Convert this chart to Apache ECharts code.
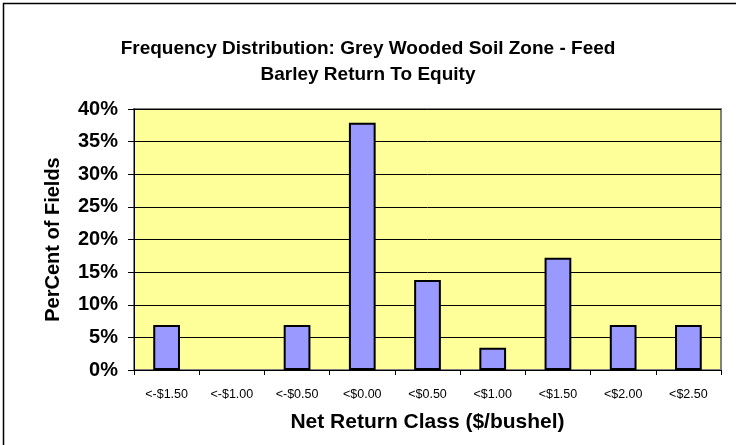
<!DOCTYPE html>
<html>
<head>
<meta charset="utf-8">
<script src="https://cdn.jsdelivr.net/npm/echarts@6/dist/echarts.min.js"></script>
<style>html,body{margin:0;padding:0;background:#fff}#c{width:736px;height:445px}</style>
</head>
<body>
<div id="c"></div>
<script>
const categories = ['<-$1.50','<-$1.00','<-$0.50','<$0.00','<$0.50','<$1.00','<$1.50','<$2.00','<$2.50'];
const percentValues = [6.9, 0, 6.9, 37.9, 13.8, 3.4, 17.2, 6.9, 6.9];
const yTicks = [0, 5, 10, 15, 20, 25, 30, 35, 40];
const titleText = 'Frequency Distribution: Grey Wooded Soil Zone - Feed\nBarley Return To Equity';
const xName = 'Net Return Class ($/bushel)';
const yName = 'PerCent of Fields';

const chart = echarts.init(document.getElementById('c'), null, {renderer: 'canvas'});
const font = 'Arial, "Liberation Sans", sans-serif';
const barData = percentValues.map(v => v === 0 ? {value: v, itemStyle: {borderWidth: 0}} : v);
chart.setOption({
  animation: false,
  backgroundColor: '#ffffff',
  title: {
    text: titleText,
    left: 'center',
    top: 31,
    textStyle: {fontFamily: font, fontSize: 19, fontWeight: 'bold', color: '#000', lineHeight: 26}
  },
  graphic: [{
    type: 'rect',
    shape: {x: 3.5, y: 3.5, width: 760, height: 470},
    style: {fill: 'none', stroke: '#000', lineWidth: 1.5},
    silent: true
  }],
  grid: {
    left: 134, right: 15, top: 109, bottom: 75,
    show: true, backgroundColor: '#FFFF99', borderColor: '#808080', borderWidth: 2
  },
  xAxis: {
    type: 'category',
    data: categories,
    name: xName,
    nameLocation: 'middle',
    nameGap: 42,
    nameTextStyle: {fontFamily: font, fontSize: 21, fontWeight: 'bold', color: '#000'},
    axisLine: {lineStyle: {color: '#000', width: 1}},
    axisTick: {show: true, alignWithLabel: false, length: 5, lineStyle: {color: '#000'}},
    axisLabel: {fontFamily: font, fontSize: 12.5, color: '#000', margin: 18, interval: 0}
  },
  yAxis: {
    type: 'value',
    min: yTicks[0],
    max: yTicks[yTicks.length - 1],
    interval: 5,
    name: yName,
    nameLocation: 'middle',
    nameGap: 71,
    nameTextStyle: {fontFamily: font, fontSize: 20, fontWeight: 'bold', color: '#000'},
    axisLine: {show: true, lineStyle: {color: '#000', width: 1}},
    axisTick: {show: true, length: 6, lineStyle: {color: '#000'}},
    axisLabel: {fontFamily: font, fontSize: 20, fontWeight: 'bold', color: '#000', margin: 16, formatter: '{value}%'},
    splitLine: {show: true, lineStyle: {color: '#000', width: 1}}
  },
  series: [{
    type: 'bar',
    data: barData,
    barWidth: '41%',
    itemStyle: {color: '#9999FF', borderColor: '#000', borderWidth: 2}
  }]
});
</script>
</body>
</html>
